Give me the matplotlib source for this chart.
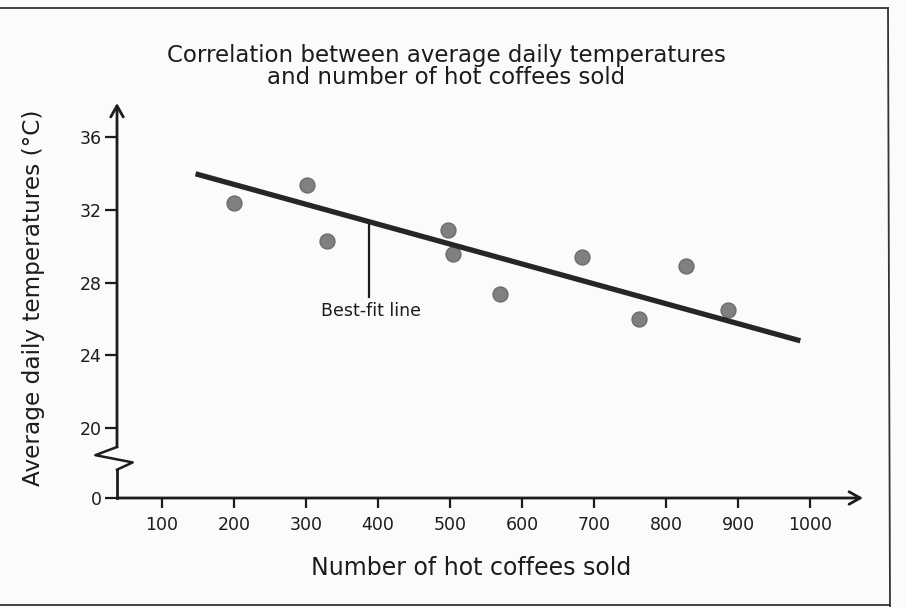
import numpy as np
import matplotlib
matplotlib.use("Agg")
import matplotlib.pyplot as plt
from matplotlib.transforms import blended_transform_factory

# data
coffees = [200, 302, 330, 497, 504, 570, 683, 762, 828, 886]
temps = [32.4, 33.4, 30.3, 30.9, 29.6, 27.4, 29.4, 26.0, 28.9, 26.5]

fit_x = [147, 986]
fit_y = [34.0, 24.8]

x_ticks = [100, 200, 300, 400, 500, 600, 700, 800, 900, 1000]
y_ticks = [20, 24, 28, 32, 36]

note_x = 388
note_y = 31.4

# the y axis is broken below 20, "0" sits a bit lower
Y_ZERO = 16.14
BREAK_Y = 18.4

ink = "#1c1c1c"
paper = "#fbfbfa"
plt.rcParams['font.family'] = ['DejaVu Sans']

fig = plt.figure(figsize=(9.05, 6.08), dpi=100, facecolor=paper)
ax = fig.add_axes([117/905, 1 - 498/608, 746/905, 395/608])
ax.set_facecolor(paper)

ax.set_xlim(38, 1073)
ax.set_ylim(Y_ZERO, 37.9)

ax.scatter(coffees, temps, s=115, color="#808080", edgecolor="#6c6c6c",
           linewidth=1, zorder=3)
ax.plot(fit_x, fit_y, color="#262626", lw=3.8, solid_capstyle="butt", zorder=4)

# pointer for the best-fit line
ax.plot([note_x, note_x], [27.2, note_y], color=ink, lw=1.6, zorder=2)
ax.text(391, 26.45, "Best-fit line", ha="center", va="center",
        fontsize=12.5, color=ink)

for s in ax.spines.values():
    s.set_visible(False)

# axes with open arrow heads
ax.annotate("", xy=(1.0, 0), xytext=(0, 0), xycoords="axes fraction",
            arrowprops=dict(arrowstyle="->,head_length=0.8,head_width=0.45",
                            lw=2, color=ink, shrinkA=0, shrinkB=0))
tr = blended_transform_factory(ax.transAxes, ax.transData)
ax.plot([0, 0], [Y_ZERO, BREAK_Y - 0.7], color=ink, lw=2, transform=tr,
        clip_on=False)
zig_x = [0, 0.021, -0.029, 0]
zig_y = [BREAK_Y - 0.7, BREAK_Y - 0.3, BREAK_Y + 0.1, BREAK_Y + 0.55]
ax.plot(zig_x, zig_y, color=ink, lw=1.8, transform=tr, clip_on=False)
ax.annotate("", xy=(0, 1.0), xytext=(0, BREAK_Y + 0.55), xycoords="axes fraction",
            textcoords=tr,
            arrowprops=dict(arrowstyle="->,head_length=0.8,head_width=0.45",
                            lw=2, color=ink, shrinkA=0, shrinkB=0))

ax.set_xticks(x_ticks)
ax.set_xticklabels([str(v) for v in x_ticks])
ax.set_yticks([Y_ZERO] + y_ticks)
ax.set_yticklabels(["0"] + [str(v) for v in y_ticks])
ax.tick_params(axis="x", direction="out", length=7, width=1.6, colors=ink,
               labelsize=12.5, pad=6)
ax.tick_params(axis="y", direction="out", length=9, width=1.6, colors=ink,
               labelsize=12.5, pad=2)

ax.set_xlabel("Number of hot coffees sold", fontsize=17, color=ink)
ax.xaxis.set_label_coords(0.4745, -0.148)
ax.set_ylabel("Average daily temperatures (\u00b0C)", fontsize=16.7, color=ink)
ax.yaxis.set_label_coords(-0.0965, 0.506)

fig.text(446/905, 1 - 66.5/608,
         "Correlation between average daily temperatures\nand number of hot coffees sold",
         ha="center", va="center", fontsize=16.5, color=ink, linespacing=0.98)

# page frame from the scan
fig.add_artist(plt.Line2D([0, 888/905], [1 - 8/608, 1 - 8/608], color="#333333", lw=1.3))
fig.add_artist(plt.Line2D([888/905, 890/905], [1 - 8/608, 1 - 606/608], color="#333333", lw=1.3))
fig.add_artist(plt.Line2D([0, 890/905], [1 - 605/608, 1 - 605/608], color="#333333", lw=1.3))

fig.savefig("out.png", dpi=100, facecolor=paper)
